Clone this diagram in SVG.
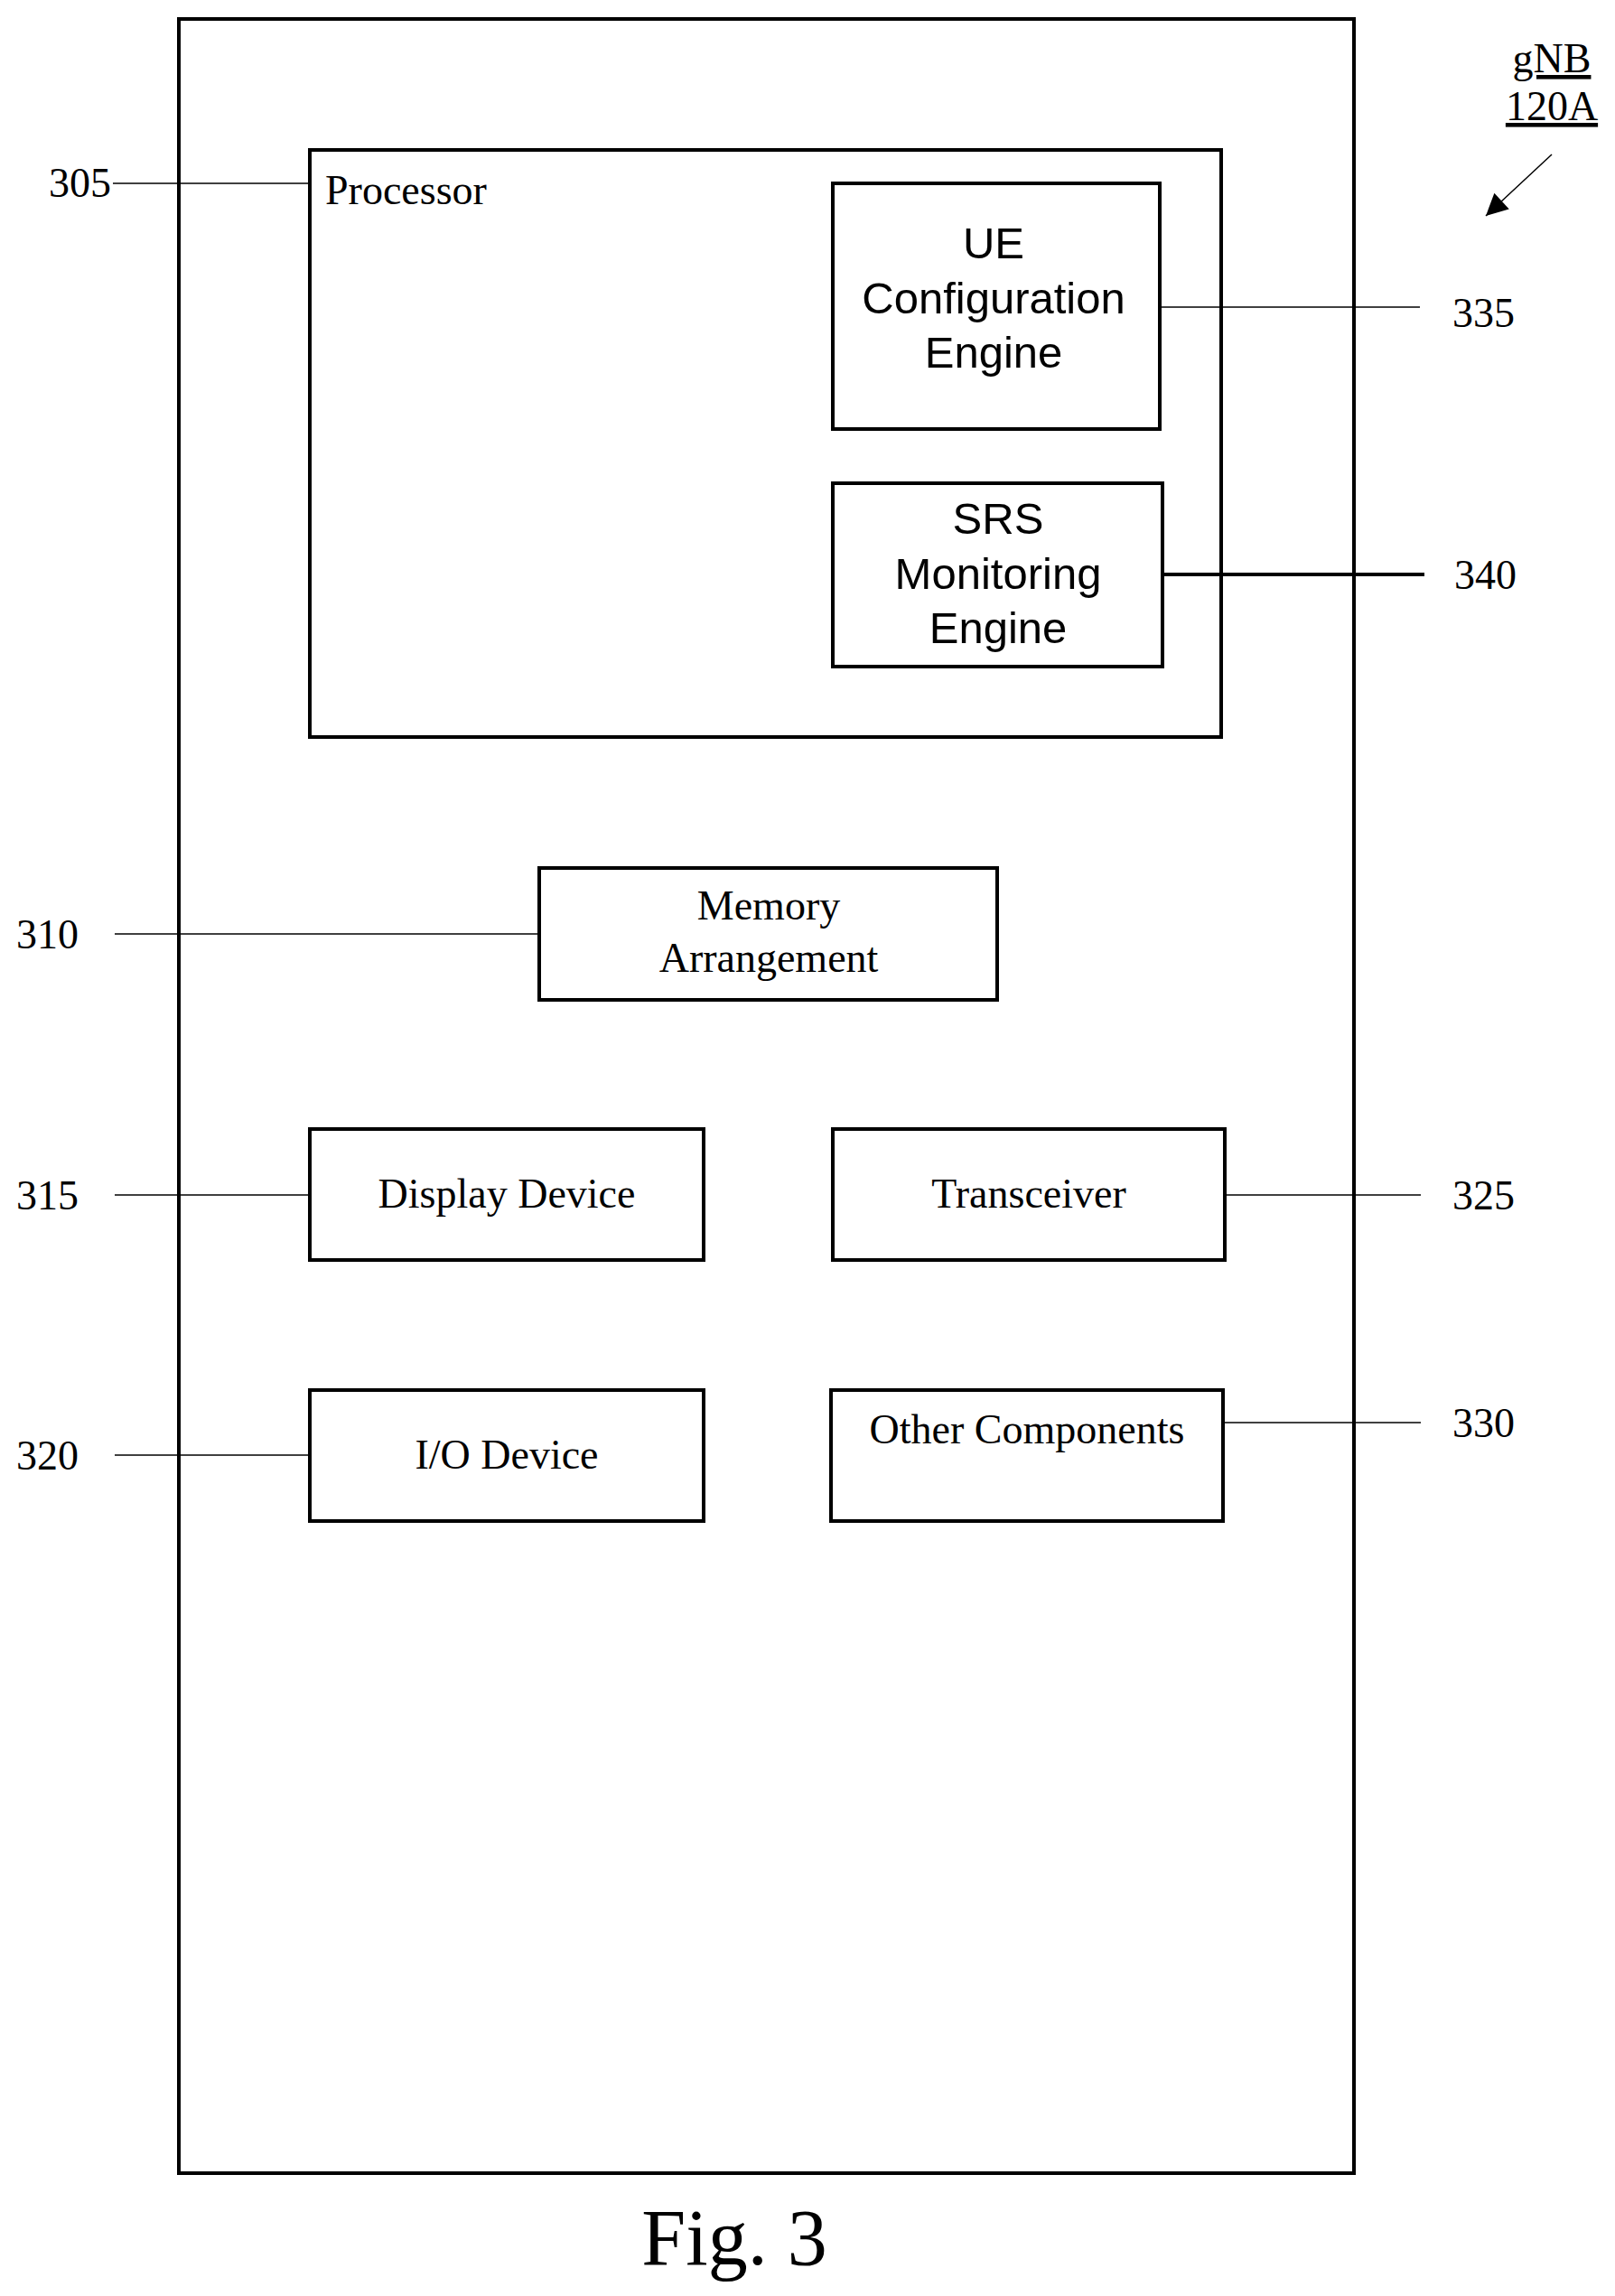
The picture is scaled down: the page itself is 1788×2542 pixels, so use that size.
<svg xmlns="http://www.w3.org/2000/svg" width="1788" height="2542" viewBox="0 0 1788 2542">
<style>
.b{fill:none;stroke:#000;stroke-width:4}
.l{stroke:#000;stroke-width:1.5;fill:none}
.t{font-family:"Liberation Serif",serif;font-size:46px;fill:#000}
.s{font-family:"Liberation Sans",sans-serif;font-size:49px;fill:#000;text-anchor:middle}
.c{text-anchor:middle}
</style>
<defs>
<marker id="ah2" viewBox="0 0 10 10" refX="10" refY="5" markerWidth="30" markerHeight="24" orient="auto" markerUnits="userSpaceOnUse"><path d="M0,0 L10,5 L0,10 z" fill="#000"/></marker></defs>
<g id="gnb"><rect class="b" x="198" y="21" width="1301" height="2385"/></g>
<g id="processor"><rect class="b" x="343" y="166" width="1009" height="650"/><text class="t" x="360" y="226">Processor</text></g>
<g id="ue"><rect class="b" x="922" y="203" width="362" height="272"/><text class="s" x="1100" y="286">UE</text><text class="s" x="1100" y="347">Configuration</text><text class="s" x="1100" y="407">Engine</text></g>
<g id="srs"><rect class="b" x="922" y="535" width="365" height="203"/><text class="s" x="1105" y="591">SRS</text><text class="s" x="1105" y="652">Monitoring</text><text class="s" x="1105" y="712">Engine</text></g>
<g id="memory"><rect class="b" x="597" y="961" width="507" height="146"/><text class="t c" x="851" y="1018">Memory</text><text class="t c" x="851" y="1076">Arrangement</text></g>
<g id="display"><rect class="b" x="343" y="1250" width="436" height="145"/><text class="t c" x="561" y="1337">Display Device</text></g>
<g id="transceiver"><rect class="b" x="922" y="1250" width="434" height="145"/><text class="t c" x="1139" y="1337">Transceiver</text></g>
<g id="io"><rect class="b" x="343" y="1539" width="436" height="145"/><text class="t c" x="561" y="1626">I/O Device</text></g>
<g id="other"><rect class="b" x="920" y="1539" width="434" height="145"/><text class="t c" x="1137" y="1598">Other Components</text></g>
<g id="connectors">
<line class="l" x1="125" y1="203" x2="343" y2="203"/>
<line class="l" x1="1284" y1="340" x2="1572" y2="340"/>
<line x1="1287" y1="636" x2="1577" y2="636" stroke="#000" stroke-width="4"/>
<line class="l" x1="127" y1="1034" x2="597" y2="1034"/>
<line class="l" x1="127" y1="1323" x2="343" y2="1323"/>
<line class="l" x1="1356" y1="1323" x2="1573" y2="1323"/>
<line class="l" x1="127" y1="1611" x2="343" y2="1611"/>
<line class="l" x1="1354" y1="1575" x2="1573" y2="1575"/>
<line class="l" x1="1718" y1="171" x2="1645" y2="239" marker-end="url(#ah2)"/>
</g>
<g id="labels">
<text class="t" x="54" y="218">305</text>
<text class="t" x="1608" y="362">335</text>
<text class="t" x="1610" y="652">340</text>
<text class="t" x="18" y="1050">310</text>
<text class="t" x="18" y="1339">315</text>
<text class="t" x="18" y="1627">320</text>
<text class="t" x="1608" y="1339">325</text>
<text class="t" x="1608" y="1591">330</text>
<text class="t c" x="1718" y="80" text-decoration="underline">gNB</text>
<text class="t c" x="1718" y="133" text-decoration="underline">120A</text>
<text x="813" y="2507" font-family="Liberation Serif,serif" font-size="88" text-anchor="middle">Fig. 3</text>
</g>
</svg>
